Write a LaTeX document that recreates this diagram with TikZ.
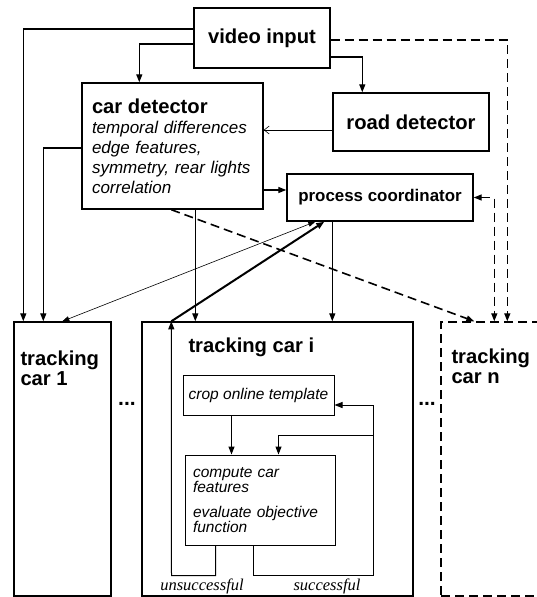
\documentclass[tikz,border=0pt]{standalone}
\usepackage{fontspec}
\setmainfont{Liberation Sans}
\newfontfamily\lblfont{Liberation Serif}
\usetikzlibrary{arrows.meta,calc}

\begin{document}
\begin{tikzpicture}[x=1pt,y=-1pt,
	box/.style={draw,line width=1.4pt,rectangle,inner sep=0pt},
	boxtitle/.style={font=\fontsize{20.2}{20}\selectfont\bfseries},
	itnote/.style={font=\fontsize{15.5}{15.5}\selectfont\itshape},
	dashline/.style={dash pattern=on 9pt off 5pt},
	conn/.style={line width=1.3pt,-{Triangle[length=8pt,width=6pt]}},
	thinconn/.style={line width=0.6pt,{Triangle[length=7pt,width=5pt]}-{Triangle[length=7pt,width=5pt]}},
	lbl/.style={font=\fontsize{16.5}{16.5}\selectfont\lblfont\itshape,inner sep=0pt},
	dots/.style={font=\fontsize{21}{21}\selectfont\bfseries,inner sep=0pt}]
	\useasboundingbox (0,0) rectangle (537,597);

	\node[box,boxtitle,minimum width=136pt,minimum height=60pt] (vin) at (262,38) {video input};
	\node[box,boxtitle,minimum width=156pt,minimum height=58pt] (road) at (411,122) {road detector};
	\node[box,font=\fontsize{17}{20}\selectfont\itshape,align=left,text width=161pt,
		minimum width=181pt,minimum height=126pt] (cdet) at (172.5,146)
		{{\fontsize{20.2}{21}\selectfont\bfseries\upshape car detector}\\temporal differences\\edge features,\\symmetry, rear lights\\correlation};
	\node[box,font=\fontsize{16.9}{17}\selectfont\bfseries,minimum width=186pt,minimum height=47pt] (proc) at (380,197.5) {process coordinator};

	% tracking boxes
	\node[box,minimum width=97pt,minimum height=274pt] (t1) at (62.5,459) {};
	\node[box,minimum width=271pt,minimum height=274pt] (ti) at (277.5,459) {};
	\begin{scope}
		\clip (0,0) rectangle (537,597);
		\node[box,dashline,minimum width=130pt,minimum height=274pt] (tn) at (506,459) {};
	\end{scope}
	\node[boxtitle,anchor=north west,align=left,inner sep=0pt] (t1name) at ($(t1.north west)+(7,29)$) {tracking\\car 1};
	\node[boxtitle,anchor=north west,inner sep=0pt] (tiname) at ($(ti.north west)+(47,16.5)$) {tracking car i};
	\node[boxtitle,anchor=north west,align=left,inner sep=0pt] (tnname) at ($(tn.north west)+(11,27.5)$) {tracking\\car n};
	\node[dots] (dotsa) at (127,404) {...};
	\node[dots] (dotsb) at (427,404) {...};

	\node[box,itnote,line width=1pt,minimum width=151pt,minimum height=40pt] (crop) at (258.5,395) {crop online template};
	\node[box,itnote,line width=1pt,align=left,text width=134pt,minimum width=150pt,minimum height=90pt] (comp) at (260,500)
		{compute car\\features\\[9pt]evaluate objective\\function};
	\node[lbl] (fail) at (202,586) {unsuccessful};
	\node[lbl] (succ) at (327,586) {successful};

	\coordinate (failc) at ($(comp.south west)+(-13,30)$);
	\coordinate (succc) at ($(comp.south east)+(38,30)$);
	\coordinate (tiin) at ($(ti.north west)+(30,0)$);

	% video input
	\draw[conn] ($(vin.west)+(0,-9)$) -| ($(t1.north west)+(10,0)$);
	\draw[conn] ($(vin.west)+(0,6)$) -| ($(cdet.north west)+(58,0)$);
	\draw[conn] ($(vin.east)+(0,19)$) -| ($(road.north west)+(30,0)$);
	\draw[conn,dashline] ($(vin.east)+(0,2)$) -| ($(tn.north west)+(67,0)$);

	% road detector
	\coordinate (rd) at ($(road.west)+(0,8)$);
	\draw[line width=0.6pt,-{Straight Barb[length=5pt,width=8pt]}] (rd) -- (rd -| cdet.east);

	% car detector
	\coordinate (cp) at ($(cdet.east)+(0,44)$);
	\draw[conn] (cp) -- (cp -| proc.west);
	\coordinate (ct) at ($(cdet.west)+(0,2)$);
	\coordinate (ct1) at ($(t1.north west)+(30,0)$);
	\draw[conn] (ct) -| (ct1);
	\draw[line width=2.4pt] (ct) -- (ct -| ct1);
	\coordinate (cti) at ($(cdet.south west)+(114,0)$);
	\draw[conn] (cti) -- (cti |- ti.north);
	\draw[conn,dashline,line width=1.6pt] ($(cdet.south west)+(90,0)$) -- ($(tn.north west)+(34,0)$);

	% process coordinator
	\coordinate (ptn) at ($(tn.north west)+(54,0)$);
	\draw[conn,dashline,{Triangle[length=8pt,width=6pt]}-{Triangle[length=8pt,width=6pt]}] (proc.east) -| (ptn);
	\draw[thinconn] ($(t1.north west)+(49,0)$) -- ($(proc.south west)+(29,0)$);
	\draw[conn,line width=2pt] (tiin) -- ($(proc.south west)+(38,0)$);
	\coordinate (pti) at ($(proc.south west)+(46,0)$);
	\draw[conn] (pti) -- (pti |- ti.north);

	% inside tracking car i
	\coordinate (cc) at ($(crop.south west)+(49,0)$);
	\draw[conn] (cc) -- (cc |- comp.north);
	\draw[conn,line width=1pt] ($(comp.south west)+(69,0)$) |- (succc) |- ($(crop.east)+(0,10)$);
	\coordinate (br) at ($(succc)+(0,-140)$);
	\draw[conn,line width=1pt] (br) -| ($(comp.north west)+(94,0)$);
	\draw[conn,line width=1pt] ($(comp.south west)+(31,0)$) |- (failc) -- (tiin);
\end{tikzpicture}
\end{document}
